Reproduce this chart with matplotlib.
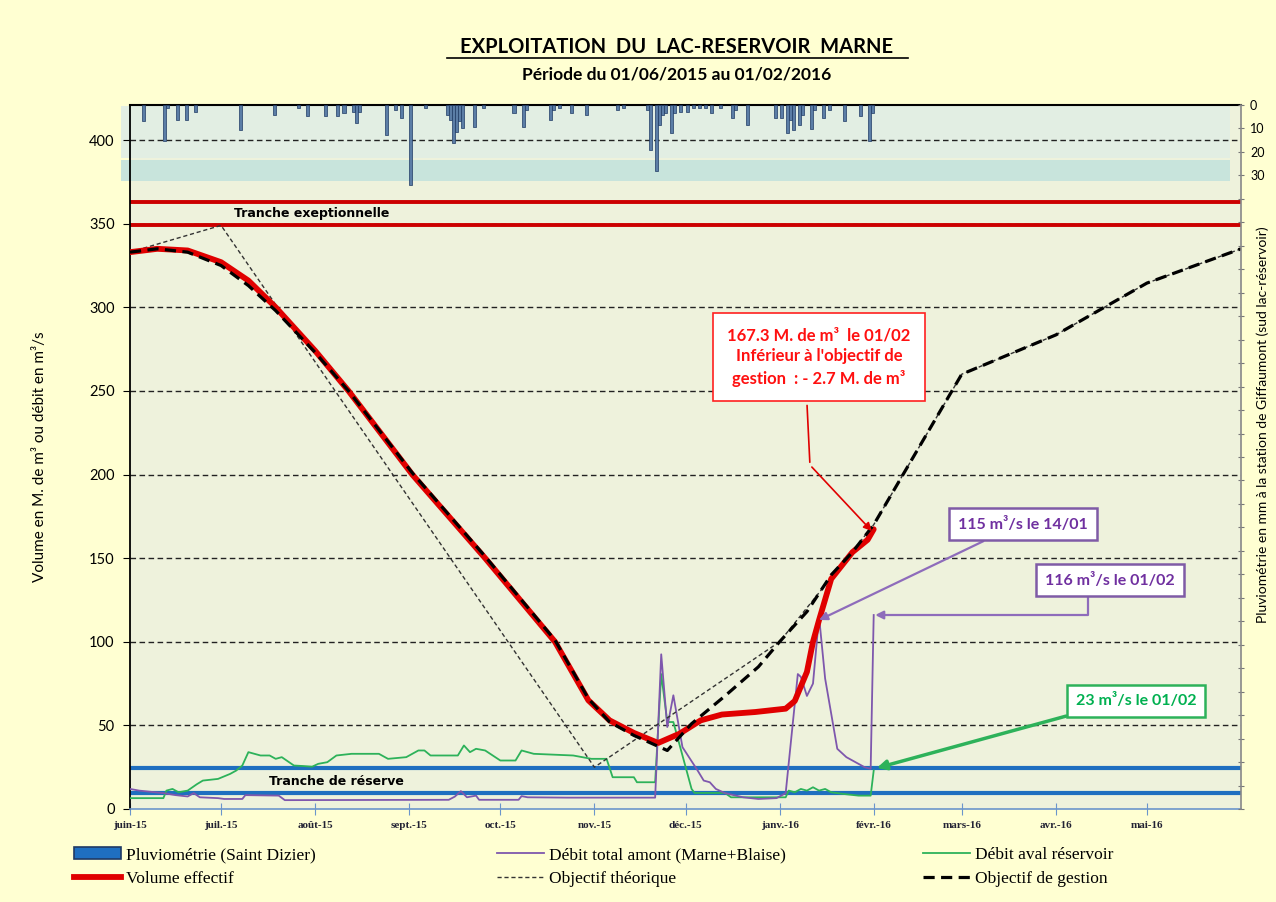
import numpy as np
import matplotlib
matplotlib.use('Agg')
import matplotlib.pyplot as plt
import matplotlib.transforms as mtransforms
from matplotlib.patches import Rectangle, Patch
from matplotlib.lines import Line2D

W, H = 1276, 902

# ---- data ----
month_ticks = ['2015-06-01', '2015-07-01', '2015-08-01', '2015-09-01', '2015-10-01', '2015-11-01',
               '2015-12-01', '2016-01-01', '2016-02-01', '2016-03-01', '2016-04-01', '2016-05-01']
month_labels = ['juin-15', 'juil.-15', 'août-15', 'sept.-15', 'oct.-15', 'nov.-15',
                'déc.-15', 'janv.-16', 'févr.-16', 'mars-16', 'avr.-16', 'mai-16']

vol_dates = ['2015-06-01', '2015-06-10', '2015-06-20', '2015-07-01', '2015-07-10', '2015-07-19',
             '2015-08-01', '2015-08-12', '2015-09-02', '2015-09-26', '2015-10-19', '2015-10-30',
             '2015-11-06', '2015-11-14', '2015-11-22', '2015-11-29', '2015-12-06', '2015-12-13',
             '2015-12-24', '2016-01-03', '2016-01-06', '2016-01-10', '2016-01-12', '2016-01-14',
             '2016-01-18', '2016-01-25', '2016-01-30', '2016-02-01']
vol_values = [333, 335, 334, 327, 316, 300, 274, 250, 200, 150, 100, 65,
              53, 45.5, 39.5, 45, 53, 56.5, 58, 60, 64.6, 82, 100, 113,
              137.6, 153.6, 161, 167.3]

gest_dates = ['2015-06-01', '2015-06-10', '2015-06-20', '2015-07-01', '2015-07-10', '2015-07-19',
              '2015-08-01', '2015-08-12', '2015-09-02', '2015-09-26', '2015-10-19', '2015-10-30',
              '2015-11-06', '2015-11-14', '2015-11-25', '2015-12-03', '2015-12-14', '2015-12-25',
              '2016-01-01', '2016-01-10', '2016-01-18', '2016-01-25', '2016-02-01', '2016-03-01',
              '2016-04-01', '2016-05-01', '2016-06-01']
gest_values = [333, 335, 333, 325, 313, 298, 273, 250, 201, 151, 101, 66,
               52, 44, 35, 51, 67.6, 85, 100, 118, 140, 153.6, 170, 260,
               283.5, 314.5, 335]

theo_dates = ['2015-06-01', '2015-07-01', '2015-11-01', '2016-01-01', '2016-02-01', '2016-03-01',
              '2016-04-01', '2016-05-01', '2016-06-01']
theo_values = [333, 349, 25, 100, 170, 260, 283.5, 314.5, 335]

amont_dates = ['2015-06-01', '2015-06-04', '2015-06-12', '2015-06-16', '2015-06-20', '2015-06-22',
               '2015-06-24', '2015-06-30', '2015-07-02', '2015-07-08', '2015-07-09', '2015-07-20',
               '2015-07-22', '2015-09-14', '2015-09-16', '2015-09-18', '2015-09-20', '2015-09-23',
               '2015-09-24', '2015-10-07', '2015-10-08', '2015-10-10', '2015-10-23', '2015-11-21',
               '2015-11-23', '2015-11-25', '2015-11-27', '2015-11-30', '2015-12-05', '2015-12-07',
               '2015-12-09', '2015-12-11', '2015-12-14', '2015-12-20', '2015-12-25', '2015-12-31',
               '2016-01-03', '2016-01-07', '2016-01-08', '2016-01-10', '2016-01-12', '2016-01-14',
               '2016-01-16', '2016-01-20', '2016-01-23', '2016-01-26', '2016-01-29', '2016-01-31',
               '2016-02-01']
amont_values = [12, 11, 9.5, 8.3, 7.5, 9.5, 7, 6.5, 6, 6, 8.3, 8,
                5.3, 5.5, 7.4, 10.7, 7, 8, 5.5, 5.5, 7.7, 7, 6.8, 6.8,
                92.5, 49, 68, 37, 23, 17, 16, 12, 9.5, 7, 6, 6.5,
                9.5, 80.7, 79, 67.6, 75, 115, 78, 36, 31, 28, 25, 24,
                116]

aval_dates = ['2015-06-01', '2015-06-12', '2015-06-13', '2015-06-15', '2015-06-17', '2015-06-20',
              '2015-06-23', '2015-06-25', '2015-06-30', '2015-07-04', '2015-07-06', '2015-07-08',
              '2015-07-10', '2015-07-14', '2015-07-17', '2015-07-19', '2015-07-21', '2015-07-25',
              '2015-07-28', '2015-07-31', '2015-08-02', '2015-08-05', '2015-08-08', '2015-08-13',
              '2015-08-22', '2015-08-25', '2015-08-31', '2015-09-04', '2015-09-06', '2015-09-08',
              '2015-09-17', '2015-09-19', '2015-09-21', '2015-09-23', '2015-09-26', '2015-10-01',
              '2015-10-06', '2015-10-08', '2015-10-12', '2015-10-25', '2015-10-31', '2015-11-05',
              '2015-11-07', '2015-11-14', '2015-11-15', '2015-11-21', '2015-11-23', '2015-11-25',
              '2015-11-27', '2015-12-03', '2015-12-04', '2015-12-14', '2015-12-16', '2016-01-03',
              '2016-01-04', '2016-01-06', '2016-01-08', '2016-01-10', '2016-01-12', '2016-01-14',
              '2016-01-16', '2016-01-18', '2016-01-22', '2016-01-27', '2016-01-31', '2016-02-01']
aval_values = [6.5, 6.5, 11, 12, 10, 11, 14.8, 17, 18, 21, 23, 26,
               34, 32, 32, 30, 31, 26, 25.7, 25.3, 27, 28, 32, 33,
               33, 30, 31, 35, 35, 32, 32, 38, 34, 36, 35, 29,
               29, 35, 33, 32, 30, 30, 19, 19, 16, 16, 80.7, 52,
               52, 12, 9.6, 9.6, 7, 7, 11, 10, 12, 11, 13, 11,
               12, 10, 9, 8, 8, 23]

rain_dates = ['2015-06-05', '2015-06-12', '2015-06-13', '2015-06-16', '2015-06-19', '2015-06-22',
              '2015-07-07', '2015-07-18', '2015-07-26', '2015-07-29', '2015-08-04', '2015-08-08',
              '2015-08-10', '2015-08-13', '2015-08-14', '2015-08-15', '2015-08-24', '2015-08-27',
              '2015-08-29', '2015-09-01', '2015-09-06', '2015-09-13', '2015-09-14', '2015-09-15',
              '2015-09-16', '2015-09-17', '2015-09-18', '2015-09-22', '2015-09-25', '2015-10-05',
              '2015-10-08', '2015-10-09', '2015-10-17', '2015-10-18', '2015-10-20', '2015-10-24',
              '2015-10-29', '2015-11-08', '2015-11-10', '2015-11-18', '2015-11-19', '2015-11-21',
              '2015-11-22', '2015-11-23', '2015-11-24', '2015-11-26', '2015-11-27', '2015-11-29',
              '2015-12-01', '2015-12-03', '2015-12-05', '2015-12-07', '2015-12-09', '2015-12-12',
              '2015-12-16', '2015-12-17', '2015-12-21', '2015-12-30', '2016-01-01', '2016-01-03',
              '2016-01-04', '2016-01-05', '2016-01-07', '2016-01-08', '2016-01-11', '2016-01-12',
              '2016-01-15', '2016-01-17', '2016-01-22', '2016-01-27', '2016-01-30', '2016-01-31']
rain_mm = [7.0, 15.3, 1.4, 6.3, 6.3, 2.8,
           10.6, 4.2, 1.4, 4.9, 4.9, 4.9,
           3.5, 2.8, 7.7, 2.8, 12.7, 2.1,
           5.6, 34.2, 1.4, 4.2, 6.3, 16.2,
           11.3, 7.0, 9.9, 9.2, 1.4, 3.5,
           9.2, 2.1, 6.3, 2.1, 1.4, 3.5,
           4.2, 2.1, 1.4, 2.1, 19.0, 28.2,
           8.5, 4.2, 3.5, 12.0, 3.5, 2.8,
           2.8, 1.4, 1.4, 1.4, 3.5, 1.4,
           5.6, 2.1, 8.5, 5.6, 5.6, 12.0,
           6.3, 10.6, 8.5, 4.2, 10.3, 2.1,
           5.6, 2.1, 7.0, 4.9, 15.5, 3.5]

reserve_lines = [24.5, 9.5]
exceptional_lines = [363, 349.5]


def d(lst):
    return np.array(lst, dtype='datetime64[D]')


def fp(x, y):
    # figure pixel -> figure fraction
    return x / W, 1 - y / H


RED = '#E00000'
PURPLE = '#7E57AD'
GREEN = '#2DB25A'
BLUE = '#1F6FC0'

fig = plt.figure(figsize=(W / 100, H / 100), dpi=100, facecolor='#FFFFD2')
ax = fig.add_axes([130 / W, 1 - 809 / H, (1241 - 130) / W, (809 - 105) / H])
ax.set_facecolor('#EEF2DC')
ax.set_xlim(np.datetime64('2015-06-01'), np.datetime64('2016-06-01'))
ax.set_ylim(0, 421)

# top shaded bands behind rainfall
tr = mtransforms.blended_transform_factory(ax.transAxes, ax.transData)
ax.add_patch(Rectangle((-0.008, 389.2), 0.998, 420.3 - 389.2, transform=tr, clip_on=False,
                       facecolor='#E2EEE3', edgecolor='none', zorder=0.6))
ax.add_patch(Rectangle((-0.008, 375.5), 0.998, 388.0 - 375.5, transform=tr, clip_on=False,
                       facecolor='#C8E4DC', edgecolor='none', zorder=0.6))

ax.set_yticks(np.arange(0, 401, 50))
for yv in np.arange(50, 401, 50):
    ax.axhline(yv, color='#222222', lw=1.0, ls=(0, (4, 2.5)), zorder=1.5)

for yv in exceptional_lines:
    ax.axhline(yv, color='#CC0000', lw=2.8, zorder=2)
for yv in reserve_lines:
    ax.axhline(yv, color=BLUE, lw=3, zorder=2)

ax.text(np.datetime64('2015-07-31'), 356.3, 'Tranche exeptionnelle', fontsize=9, fontweight='bold',
        family='DejaVu Sans', ha='center', va='center', zorder=3)
ax.text(np.datetime64('2015-08-08'), 16.5, 'Tranche de réserve', fontsize=9, fontweight='bold',
        family='DejaVu Sans', ha='center', va='center', zorder=3)

ax.plot(d(aval_dates), aval_values, color=GREEN, lw=1.3, zorder=3)
ax.plot(d(amont_dates), amont_values, color=PURPLE, lw=1.3, zorder=3)
ax.plot(d(theo_dates), theo_values, color='#333333', lw=1.0, ls=(0, (3, 2)), zorder=4)
ax.plot(d(vol_dates), vol_values, color=RED, lw=4.2, zorder=5, solid_capstyle='round')
ax.plot(d(gest_dates), gest_values, color='black', lw=2.3, ls=(0, (3.5, 2)), zorder=6)

# axes styling
ax.set_xticks(d(month_ticks))
ax.set_xticklabels(month_labels, fontsize=8, fontweight='bold', family='Liberation Serif',
                   color='#222233')
ax.tick_params(axis='x', direction='inout', length=8, color='#6A95CC', pad=5)
ax.tick_params(axis='y', direction='out', length=5, labelsize=10.5, pad=6)
for lab in ax.get_yticklabels():
    lab.set_family('Lato')
ax.spines['bottom'].set_color('#6A95CC')
ax.spines['bottom'].set_linewidth(1.2)
ax.spines['left'].set_linewidth(1.3)
ax.spines['top'].set_linewidth(1.5)
ax.spines['right'].set_visible(False)
ax.set_ylabel('Volume en M. de m³ ou débit en m³/s', fontsize=11, family='Lato', labelpad=30)

# rainfall on the right inverted axis
ax2 = ax.twinx()
ax2.set_ylim(300, 0)
ax2.bar(d(rain_dates), rain_mm, width=1.0, align='edge', color='#5B7DA6', edgecolor='#1F3A64',
        linewidth=0.5, zorder=3)
ax2.set_yticks(np.arange(0, 301, 10))
ax2.set_yticklabels(['0', '10', '20', '30'] + [''] * 27, fontsize=9, family='Lato')
ax2.tick_params(axis='y', direction='inout', length=5, color='#777777', pad=4)
ax2.spines['right'].set_color('#888888')
ax2.spines['right'].set_linewidth(1.2)
for s in ['top', 'left', 'bottom']:
    ax2.spines[s].set_visible(False)
fig.text(*fp(1263, 425), 'Pluviométrie en mm à la station de Giffaumont (sud lac-réservoir)',
         rotation=90, fontsize=10, family='Lato', ha='center', va='center')

# annotations
ax.annotate('', xy=(np.datetime64('2016-02-01'), 165), xytext=(np.datetime64('2016-01-11'), 205.7),
            arrowprops=dict(arrowstyle='-|>', color=RED, lw=1.2, mutation_scale=12), zorder=7)
ax.annotate('', xy=(np.datetime64('2016-01-11'), 205.7), xytext=(np.datetime64('2016-01-10'), 243),
            arrowprops=dict(arrowstyle='-', color=RED, lw=1.2), zorder=7)
fig.text(*fp(819, 357), "167.3 M. de m³  le 01/02\nInférieur à l'objectif de\ngestion  : - 2.7 M. de m³",
         ha='center', va='center', color='#FF1010', fontsize=12, fontweight='bold', family='Lato',
         linespacing=1.4,
         bbox=dict(boxstyle='square,pad=0.85', facecolor='white', edgecolor='#FF2020', lw=1.2))

ax.annotate('115 m³/s le 14/01', xy=(np.datetime64('2016-01-14'), 113),
            xytext=fp(1023, 524), textcoords='figure fraction',
            ha='center', va='center', color='#7030A0', fontsize=11.5, fontweight='bold', family='Lato',
            bbox=dict(boxstyle='square,pad=0.55', facecolor='white', edgecolor='#7F5BA6', lw=1.8),
            arrowprops=dict(arrowstyle='-|>', color='#8E6CBB', lw=1.6, mutation_scale=12,
                            relpos=(0.35, 0.0), shrinkA=0, shrinkB=0), zorder=8)
ax.annotate('116 m³/s le 01/02', xy=(np.datetime64('2016-02-01'), 116),
            xytext=fp(1110, 580), textcoords='figure fraction',
            ha='center', va='center', color='#7030A0', fontsize=11.5, fontweight='bold', family='Lato',
            bbox=dict(boxstyle='square,pad=0.55', facecolor='white', edgecolor='#7F5BA6', lw=1.8),
            arrowprops=dict(arrowstyle='-|>', color='#8E6CBB', lw=1.6, mutation_scale=12,
                            relpos=(0.33, 0.0), shrinkA=0, shrinkB=1,
                            connectionstyle='angle,angleA=90,angleB=0,rad=0'), zorder=8)
ax.annotate('23 m³/s le 01/02', xy=(np.datetime64('2016-02-02'), 24.5),
            xytext=fp(1136, 701), textcoords='figure fraction',
            ha='center', va='center', color='#00B050', fontsize=11.5, fontweight='bold', family='Lato',
            bbox=dict(boxstyle='square,pad=0.55', facecolor='white', edgecolor='#2DB25A', lw=1.8),
            arrowprops=dict(arrowstyle='-|>', color='#2DB25A', lw=2.5, mutation_scale=14,
                            relpos=(0.15, 0.0), shrinkA=0, shrinkB=0), zorder=8)

# titles
fig.text(*fp(677, 47), 'EXPLOITATION  DU  LAC-RESERVOIR  MARNE', ha='center', va='center',
         fontsize=14.5, fontweight='bold', family='Lato')
fig.add_artist(Line2D([447 / W, 908 / W], [1 - 58 / H, 1 - 58 / H], color='black', lw=1.2))
fig.text(*fp(677, 75), 'Période du 01/06/2015 au 01/02/2016', ha='center', va='center',
         fontsize=12.5, fontweight='bold', family='Lato')

# legend in three columns
lprops = dict(family='Liberation Serif', size=12.5)
common = dict(loc='upper left', frameon=False, prop=lprops, handlelength=2.7, handletextpad=0.3,
              labelspacing=0.42, borderpad=0, borderaxespad=0)
fig.legend([Patch(facecolor='#1F6FC0', edgecolor='#1F3A64', lw=1.2),
            Line2D([], [], color=RED, lw=4.2)],
           ['Pluviométrie (Saint Dizier)', 'Volume effectif'],
           bbox_to_anchor=fp(74, 847), **common)
fig.legend([Line2D([], [], color=PURPLE, lw=1.3),
            Line2D([], [], color='#333333', lw=1.0, ls=(0, (3, 2)))],
           ['Débit total amont (Marne+Blaise)', 'Objectif théorique'],
           bbox_to_anchor=fp(497, 847), **common)
fig.legend([Line2D([], [], color=GREEN, lw=1.3),
            Line2D([], [], color='black', lw=2.3, ls=(0, (3.5, 2)))],
           ['Débit aval réservoir', 'Objectif de gestion'],
           bbox_to_anchor=fp(923, 847), **common)

fig.savefig('out.png', dpi=100, facecolor=fig.get_facecolor())
